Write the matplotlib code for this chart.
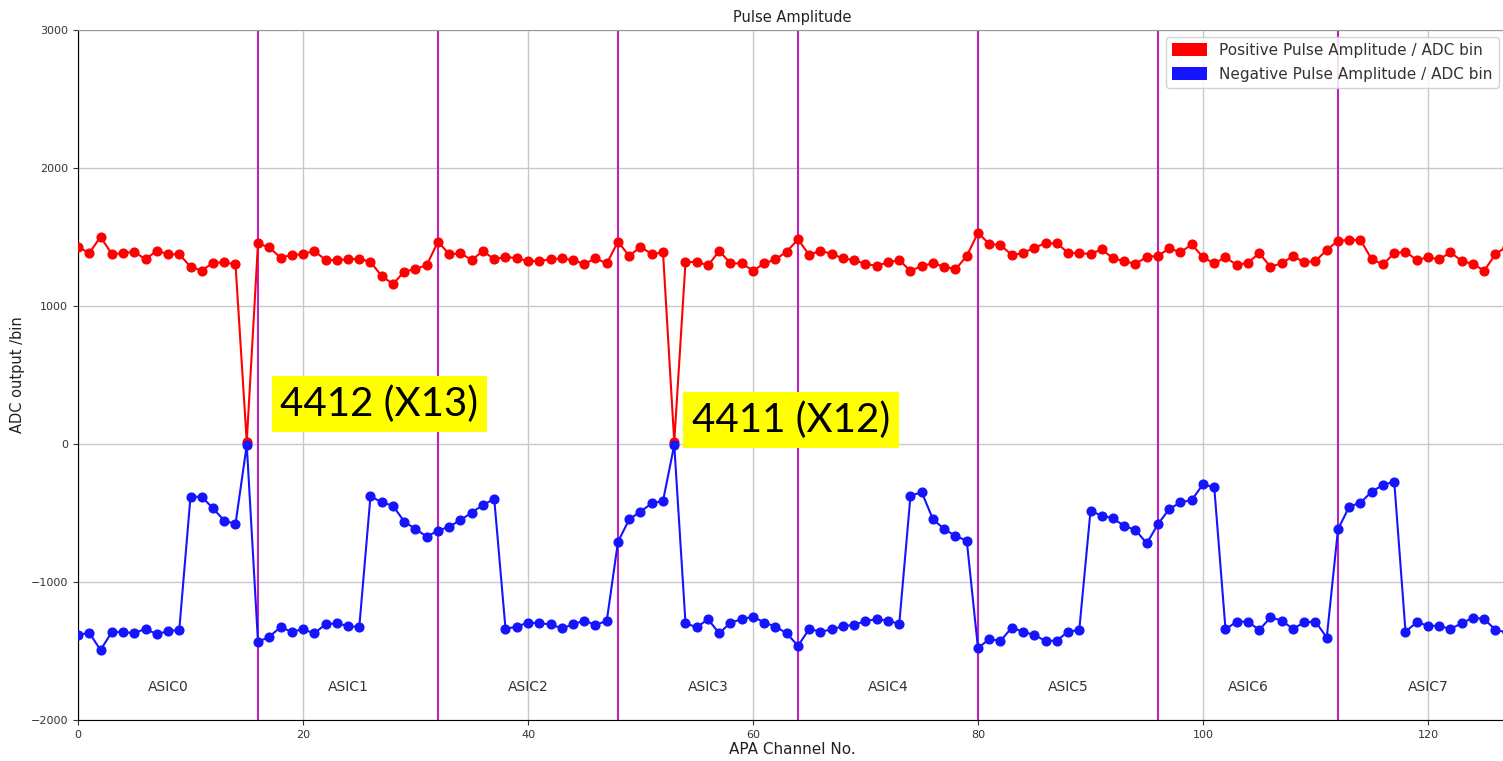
import matplotlib
matplotlib.use("Agg")
import matplotlib.pyplot as plt
from matplotlib.patches import Patch
import numpy as np

channels = list(range(128))

positive_amp = [
    1430, 1382, 1502, 1377, 1382, 1394, 1338, 1401, 1375, 1375, 1285, 1256, 1314, 1316, 1302, 15,
    1454, 1425, 1350, 1370, 1375, 1401, 1333, 1333, 1338, 1343, 1319, 1217, 1159, 1249, 1268, 1297,
    1466, 1375, 1382, 1333, 1399, 1338, 1357, 1345, 1326, 1326, 1338, 1345, 1333, 1304, 1345, 1309,
    1466, 1362, 1430, 1375, 1389, 15, 1316, 1321, 1294, 1399, 1309, 1309, 1256, 1309, 1338, 1394,
    1483, 1370, 1401, 1377, 1345, 1333, 1304, 1292, 1316, 1333, 1254, 1290, 1309, 1285, 1266, 1362,
    1531, 1449, 1442, 1370, 1382, 1423, 1454, 1454, 1387, 1382, 1377, 1411, 1345, 1326, 1304, 1357,
    1362, 1418, 1389, 1447, 1353, 1309, 1353, 1297, 1314, 1382, 1285, 1309, 1362, 1316, 1326, 1406,
    1473, 1478, 1478, 1338, 1302, 1382, 1394, 1333, 1353, 1338, 1389, 1326, 1304, 1256, 1377, 1430,
]

negative_amp = [
    -1384, -1367, -1493, -1364, -1360, -1372, -1338, -1379, -1355, -1348, -382, -382, -466, -555, -580, -7,
    -1435, -1396, -1328, -1360, -1343, -1372, -1307, -1299, -1319, -1328, -377, -423, -447, -563, -616, -671,
    -628, -599, -551, -497, -442, -398, -1340, -1323, -1294, -1299, -1307, -1336, -1307, -1280, -1311, -1282,
    -708, -546, -490, -430, -413, -7, -1299, -1328, -1270, -1372, -1294, -1270, -1251, -1294, -1323, -1372,
    -1463, -1340, -1360, -1344, -1319, -1311, -1282, -1270, -1280, -1304, -374, -350, -546, -616, -667, -700,
    -1480, -1413, -1427, -1331, -1360, -1384, -1427, -1425, -1360, -1348, -485, -519, -539, -594, -623, -720,
    -581, -471, -423, -406, -292, -314, -1343, -1287, -1287, -1348, -1256, -1280, -1340, -1292, -1287, -1403,
    -618, -454, -425, -345, -297, -273, -1360, -1292, -1316, -1319, -1340, -1299, -1258, -1268, -1348, -1364,
]

asic_labels = ["ASIC0", "ASIC1", "ASIC2", "ASIC3", "ASIC4", "ASIC5", "ASIC6", "ASIC7"]
asic_boundaries = [0, 16, 32, 48, 64, 80, 96, 112]
annotations = ["4412 (X13)", "4411 (X12)"]

W, H = 1503, 761
fig = plt.figure(figsize=(W / 100, H / 100), dpi=100)
ax = fig.add_axes([78 / W, (H - 720) / H, (1506.75 - 78) / W, 690 / H])

ax.grid(True, color="#c8c8c8", linewidth=1.0)
for b in asic_boundaries:
    ax.axvline(b, color="#c020c0", linewidth=1.5, zorder=2)

ax.plot(channels, positive_amp, color="#ff0000", marker="o", markersize=6.3,
        linewidth=1.5, zorder=3)
ax.plot(channels, negative_amp, color="#1414ff", marker="o", markersize=6.3,
        linewidth=1.5, zorder=3)

for i, lab in enumerate(asic_labels):
    ax.text(asic_boundaries[i] + 8, -1760, lab, ha="center", va="center",
            fontsize=10, color="#333333")

ax.text(26.8, 290, annotations[0], ha="center", va="center", fontsize=29,
        family="Lato", color="black",
        bbox=dict(facecolor="yellow", edgecolor="none", pad=6.5), zorder=5)
ax.text(63.4, 174, annotations[1], ha="center", va="center", fontsize=29,
        family="Lato", color="black",
        bbox=dict(facecolor="yellow", edgecolor="none", pad=6.5), zorder=5)

ax.set_xlim(0, 127)
ax.set_ylim(-2000, 3000)
ax.set_xticks([0, 20, 40, 60, 80, 100, 120])
ax.set_yticks([-2000, -1000, 0, 1000, 2000, 3000])
ax.tick_params(labelsize=8, colors="#333333")
ax.spines["top"].set_color("#999999")
ax.spines["right"].set_visible(False)

ax.set_title("Pulse Amplitude", fontsize=10.5, color="#222222", pad=6)
ax.set_xlabel("APA Channel No.", fontsize=11, color="#222222", labelpad=2)
ax.set_ylabel("ADC output /bin", fontsize=10.5, color="#222222", labelpad=4)

handles = [Patch(facecolor="#ff0000", label="Positive Pulse Amplitude / ADC bin"),
           Patch(facecolor="#1414ff", label="Negative Pulse Amplitude / ADC bin")]
leg = ax.legend(handles=handles, loc="upper left",
                bbox_to_anchor=(1166 / W, (H - 37) / H), bbox_transform=fig.transFigure,
                fontsize=11, framealpha=0.85, handlelength=2.3, handleheight=0.9,
                borderaxespad=0, labelspacing=0.55)
for t in leg.get_texts():
    t.set_color("#333333")

fig.savefig("out.png", dpi=100)
